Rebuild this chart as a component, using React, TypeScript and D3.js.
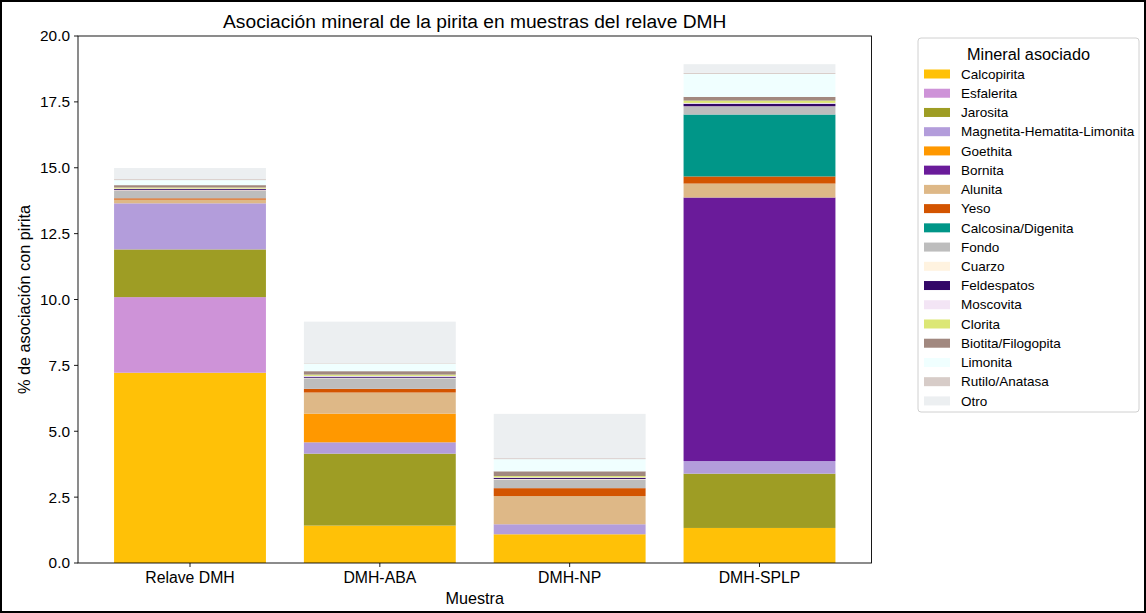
import React from "react";
import * as d3 from "d3";

const samples = ["Relave DMH", "DMH-ABA", "DMH-NP", "DMH-SPLP"];

const minerals = [
  "Calcopirita", "Esfalerita", "Jarosita", "Magnetita-Hematita-Limonita", "Goethita",
  "Bornita", "Alunita", "Yeso", "Calcosina/Digenita", "Fondo", "Cuarzo", "Feldespatos",
  "Moscovita", "Clorita", "Biotita/Filogopita", "Limonita", "Rutilo/Anatasa", "Otro",
];

const mineralColors = [
  "#FFC107", "#CE93D8", "#9E9D24", "#B39DDB", "#FF9800",
  "#6A1B9A", "#DEB887", "#D35400", "#009688", "#BDBDBD", "#FFF3E0", "#330867",
  "#F3E5F5", "#DCE775", "#A1887F", "#F0FFFF", "#D7CCC8", "#ECEFF1",
];

// values per sample, in mineral order
const relaveDMH = [7.22, 2.87, 1.81, 1.75, 0, 0, 0.14, 0.05, 0, 0.28, 0.03, 0.04, 0.02, 0.04, 0.09, 0.19, 0.04, 0.42];
const dmhABA = [1.42, 0, 2.73, 0.43, 1.09, 0, 0.8, 0.14, 0, 0.4, 0.02, 0.04, 0.03, 0.05, 0.13, 0.29, 0.02, 1.57];
const dmhNP = [1.09, 0, 0, 0.38, 0, 0, 1.07, 0.3, 0, 0.33, 0.02, 0.04, 0.02, 0.05, 0.18, 0.46, 0.04, 1.68];
const dmhSPLP = [1.33, 0, 2.06, 0.48, 0, 10.0, 0.53, 0.27, 2.35, 0.29, 0.02, 0.1, 0.03, 0.09, 0.14, 0.87, 0.04, 0.33];

const yTicks = [0, 2.5, 5, 7.5, 10, 12.5, 15, 17.5, 20];

const FONT = "'Liberation Sans', Arial, Helvetica, sans-serif";

export default function App() {
  const W = 1146, H = 613;
  const left = 78, right = 871.5, top = 36, bottom = 563;

  const table = samples.map((s, i) => {
    const vals = [relaveDMH, dmhABA, dmhNP, dmhSPLP][i];
    const row: Record<string, any> = { sample: s, idx: i };
    minerals.forEach((m, j) => (row[m] = vals[j]));
    return row;
  });

  const stack = d3.stack<any>().keys(minerals)(table);

  const x = d3.scaleLinear().domain([-0.59, 3.59]).range([left, right]);
  const y = d3.scaleLinear().domain([0, 20]).range([bottom, top]);
  const barW = x(0.8) - x(0);

  const legX = 918, legY = 38, legW = 221, legH = 374;
  const entryY0 = 74, entryStep = 19.23;

  return (
    <svg width={W} height={H} style={{ position: "absolute", left: 0, top: 0, background: "#fff" }} fontFamily={FONT}>
      <rect x={0} y={0} width={W} height={H} fill="#fff" />
      <rect x={1} y={1} width={W - 2} height={H - 2} fill="none" stroke="#000" strokeWidth={2} />
      {/* bars */}
      {stack.map((layer, li) => (
        <g key={minerals[li]} fill={mineralColors[li]}>
          {layer.map((d, bi) => {
            const h = y(d[0]) - y(d[1]);
            if (h <= 0) return null;
            return (
              <rect key={bi} x={x(bi) - barW / 2} y={y(d[1])} width={barW} height={h} />
            );
          })}
        </g>
      ))}
      {/* axes frame */}
      <rect x={left} y={top} width={right - left} height={bottom - top} fill="none" stroke="#000" strokeWidth={0.9} />
      {/* y ticks */}
      {yTicks.map((t) => (
        <g key={t}>
          <line x1={left - 4} x2={left} y1={y(t)} y2={y(t)} stroke="#000" strokeWidth={0.9} />
          <text x={left - 8} y={y(t)} dy="0.35em" textAnchor="end" fontSize={15.4} fill="#000">
            {d3.format(".1f")(t)}
          </text>
        </g>
      ))}
      {/* x ticks */}
      {samples.map((s, i) => (
        <g key={s}>
          <line x1={x(i)} x2={x(i)} y1={bottom} y2={bottom + 4} stroke="#000" strokeWidth={0.9} />
          <text x={x(i)} y={bottom + 20} textAnchor="middle" fontSize={15.8} fill="#000">{s}</text>
        </g>
      ))}
      <text x={(left + right) / 2} y={604} textAnchor="middle" fontSize={16.2} fill="#000">Muestra</text>
      <text transform={`translate(30,${(top + bottom) / 2}) rotate(-90)`} textAnchor="middle" fontSize={16.3} fill="#000">
        % de asociación con pirita
      </text>
      <text x={(left + right) / 2} y={28} textAnchor="middle" fontSize={19.2} fill="#000">
        Asociación mineral de la pirita en muestras del relave DMH
      </text>
      {/* legend */}
      <rect x={legX} y={legY} width={legW} height={legH} rx={3} fill="#fff" stroke="#d0d0d0" strokeWidth={1} />
      <text x={legX + legW / 2} y={60} textAnchor="middle" fontSize={16.3} fill="#000">Mineral asociado</text>
      {minerals.map((m, i) => {
        const cy = entryY0 + i * entryStep;
        return (
          <g key={m}>
            <rect x={924} y={cy - 4.5} width={26} height={9} fill={mineralColors[i]} />
            <text x={961} y={cy} dy="0.35em" fontSize={13.5} fill="#000">{m}</text>
          </g>
        );
      })}
    </svg>
  );
}
